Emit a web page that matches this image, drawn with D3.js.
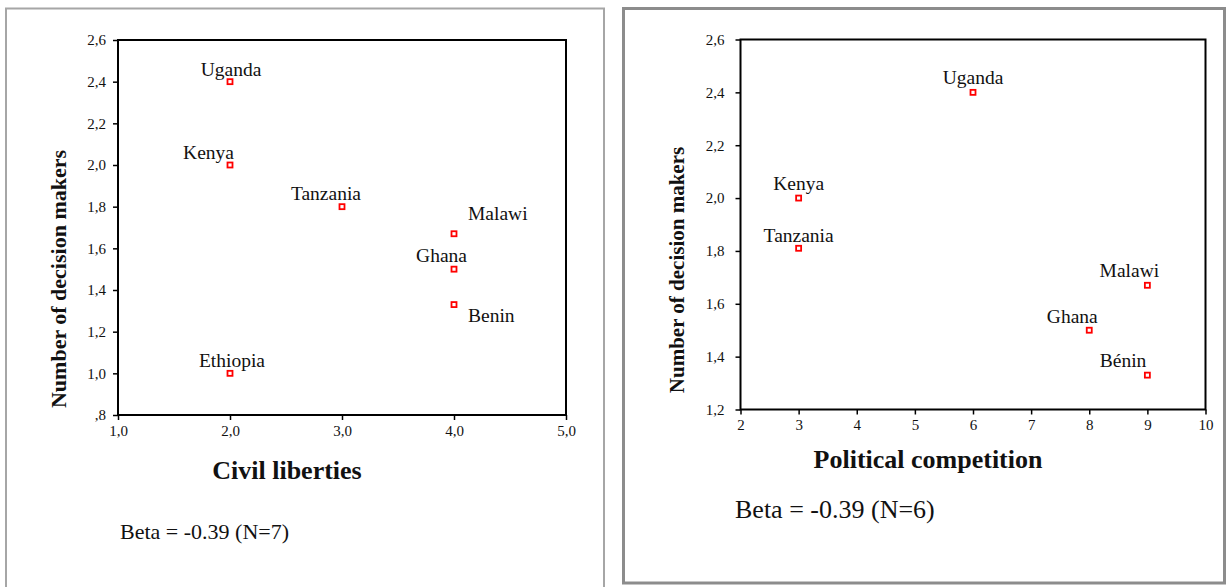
<!DOCTYPE html>
<html><head><meta charset="utf-8">
<script src="https://cdn.jsdelivr.net/npm/d3@7"></script>
<style>
html,body{margin:0;padding:0;background:#fff;}
svg{display:block;}
svg text{font-family:"Liberation Serif","Times New Roman","DejaVu Serif",serif;}
</style></head>
<body><svg id="c" width="1227" height="587"></svg>
<script>
// ---- Data: Civil liberties panel ----
const countriesCL = ["Uganda","Kenya","Tanzania","Malawi","Ghana","Benin","Ethiopia"];
const civilLiberties = [2,2,3,4,4,4,2];
const decisionMakersCL = [2.4,2.0,1.8,1.67,1.5,1.33,1.0];
const xTicksCL = [1,2,3,4,5];
const xTickLabelsCL = ["1,0","2,0","3,0","4,0","5,0"];
const yTicksCL = [0.8,1.0,1.2,1.4,1.6,1.8,2.0,2.2,2.4,2.6];
const yTickLabelsCL = [",8","1,0","1,2","1,4","1,6","1,8","2,0","2,2","2,4","2,6"];
// ---- Data: Political competition panel ----
const countriesPC = ["Uganda","Kenya","Tanzania","Malawi","Ghana","Bénin"];
const politicalCompetition = [6,3,3,9,8,9];
const decisionMakersPC = [2.4,2.0,1.81,1.67,1.5,1.33];
const xTicksPC = [2,3,4,5,6,7,8,9,10];
const xTickLabelsPC = ["2","3","4","5","6","7","8","9","10"];
const yTicksPC = [1.2,1.4,1.6,1.8,2.0,2.2,2.4,2.6];
const yTickLabelsPC = ["1,2","1,4","1,6","1,8","2,0","2,2","2,4","2,6"];

const FONT = '"Liberation Serif","Times New Roman","DejaVu Serif",serif';
const svg = d3.select("#c");

// panel borders
svg.append("rect").attr("x",6).attr("y",8.5).attr("width",598).attr("height",600)
  .attr("fill","none").attr("stroke","#a6a6a6").attr("stroke-width",2);
svg.append("rect").attr("x",623.5).attr("y",8.5).attr("width",601).attr("height",574.5)
  .attr("fill","none").attr("stroke","#8c8c8c").attr("stroke-width",3);

function panel(cfg){
  const x = d3.scaleLinear().domain(cfg.xDomain).range(cfg.xRange);
  const y = d3.scaleLinear().domain(cfg.yDomain).range(cfg.yRange);
  const g = svg.append("g");
  // frame
  g.append("rect").attr("x",cfg.xRange[0]).attr("y",cfg.yRange[1])
    .attr("width",cfg.xRange[1]-cfg.xRange[0]).attr("height",cfg.yRange[0]-cfg.yRange[1])
    .attr("fill","none").attr("stroke","#000").attr("stroke-width",2);
  const ax = g.append("g").attr("transform",`translate(0,${cfg.yRange[0]})`)
    .call(d3.axisBottom(x).tickValues(cfg.xTicks).tickFormat((d,i)=>cfg.xTickLabels[i]).tickSize(5).tickPadding(5));
  const ay = g.append("g").attr("transform",`translate(${cfg.xRange[0]},0)`)
    .call(d3.axisLeft(y).tickValues(cfg.yTicks).tickFormat((d,i)=>cfg.yTickLabels[i]).tickSize(5).tickPadding(cfg.yPad));
  [ax,ay].forEach(a=>{
    a.attr("font-family",FONT);
    a.select(".domain").remove();
    a.selectAll(".tick line").attr("stroke","#000").attr("stroke-width",1.5);
    a.selectAll(".tick text").attr("fill","#111").style("font-size","15px");
  });
  // points
  const pts = cfg.names.map((n,i)=>({name:n,x:cfg.xs[i],y:cfg.ys[i]}));
  g.selectAll("rect.pt").data(pts).enter().append("rect").attr("class","pt")
    .attr("x",d=>x(d.x)-2.5).attr("y",d=>y(d.y)-2.5).attr("width",5).attr("height",5)
    .attr("fill","#fff").attr("stroke","#ff0000").attr("stroke-width",1.8);
  g.selectAll("text.lbl").data(pts).enter().append("text").attr("class","lbl")
    .attr("x",d=>x(d.x)+cfg.place[d.name][1]).attr("y",d=>y(d.y)+cfg.place[d.name][2])
    .attr("text-anchor",d=>cfg.place[d.name][0])
    .style("font-size","19.5px").attr("fill","#111").text(d=>d.name);
  // axis titles
  g.append("text").attr("transform",`translate(${cfg.yTitle[0]},${cfg.yTitle[1]}) rotate(-90)`)
    .attr("text-anchor","middle").attr("dy","0.35em").style("font-weight","bold").style("font-size",cfg.yTitle[2]+"px")
    .attr("fill","#111").text("Number of decision makers");
  g.append("text").attr("x",cfg.xTitle[0]).attr("y",cfg.xTitle[1]).attr("text-anchor","middle")
    .style("font-weight","bold").style("font-size",cfg.xTitle[2]+"px").attr("fill","#111").text(cfg.xTitleText);
  g.append("text").attr("x",cfg.beta[0]).attr("y",cfg.beta[1])
    .style("font-size",cfg.beta[2]+"px").attr("fill","#111").text(cfg.betaText);
}

panel({
  xDomain:[1,5], xRange:[118,566], yDomain:[0.8,2.6], yRange:[415,40],
  xTicks:xTicksCL, xTickLabels:xTickLabelsCL, yTicks:yTicksCL, yTickLabels:yTickLabelsCL, yPad:7,
  names:countriesCL, xs:civilLiberties, ys:decisionMakersCL,
  place:{Uganda:["middle",1,-6],Kenya:["end",4,-6],Tanzania:["end",19,-7],Malawi:["start",14,-14],
         Ghana:["end",13,-7],Benin:["start",14,17],Ethiopia:["middle",2,-6]},
  yTitle:[58,279,22], xTitle:[287,479,26], xTitleText:"Civil liberties",
  beta:[120,539,22], betaText:"Beta = -0.39 (N=7)"
});
panel({
  xDomain:[2,10], xRange:[740.5,1205.5], yDomain:[1.2,2.6], yRange:[409.5,39.5],
  xTicks:xTicksPC, xTickLabels:xTickLabelsPC, yTicks:yTicksPC, yTickLabels:yTickLabelsPC, yPad:11,
  names:countriesPC, xs:politicalCompetition, ys:decisionMakersPC,
  place:{Uganda:["middle",0,-8],Kenya:["middle",0,-8],Tanzania:["middle",0,-6],Malawi:["middle",-18,-8],
         Ghana:["middle",-17,-7],"Bénin":["end",-1,-8]},
  yTitle:[677,270,21], xTitle:[928,468,26], xTitleText:"Political competition",
  beta:[735,518,26], betaText:"Beta = -0.39 (N=6)"
});
</script></body></html>
